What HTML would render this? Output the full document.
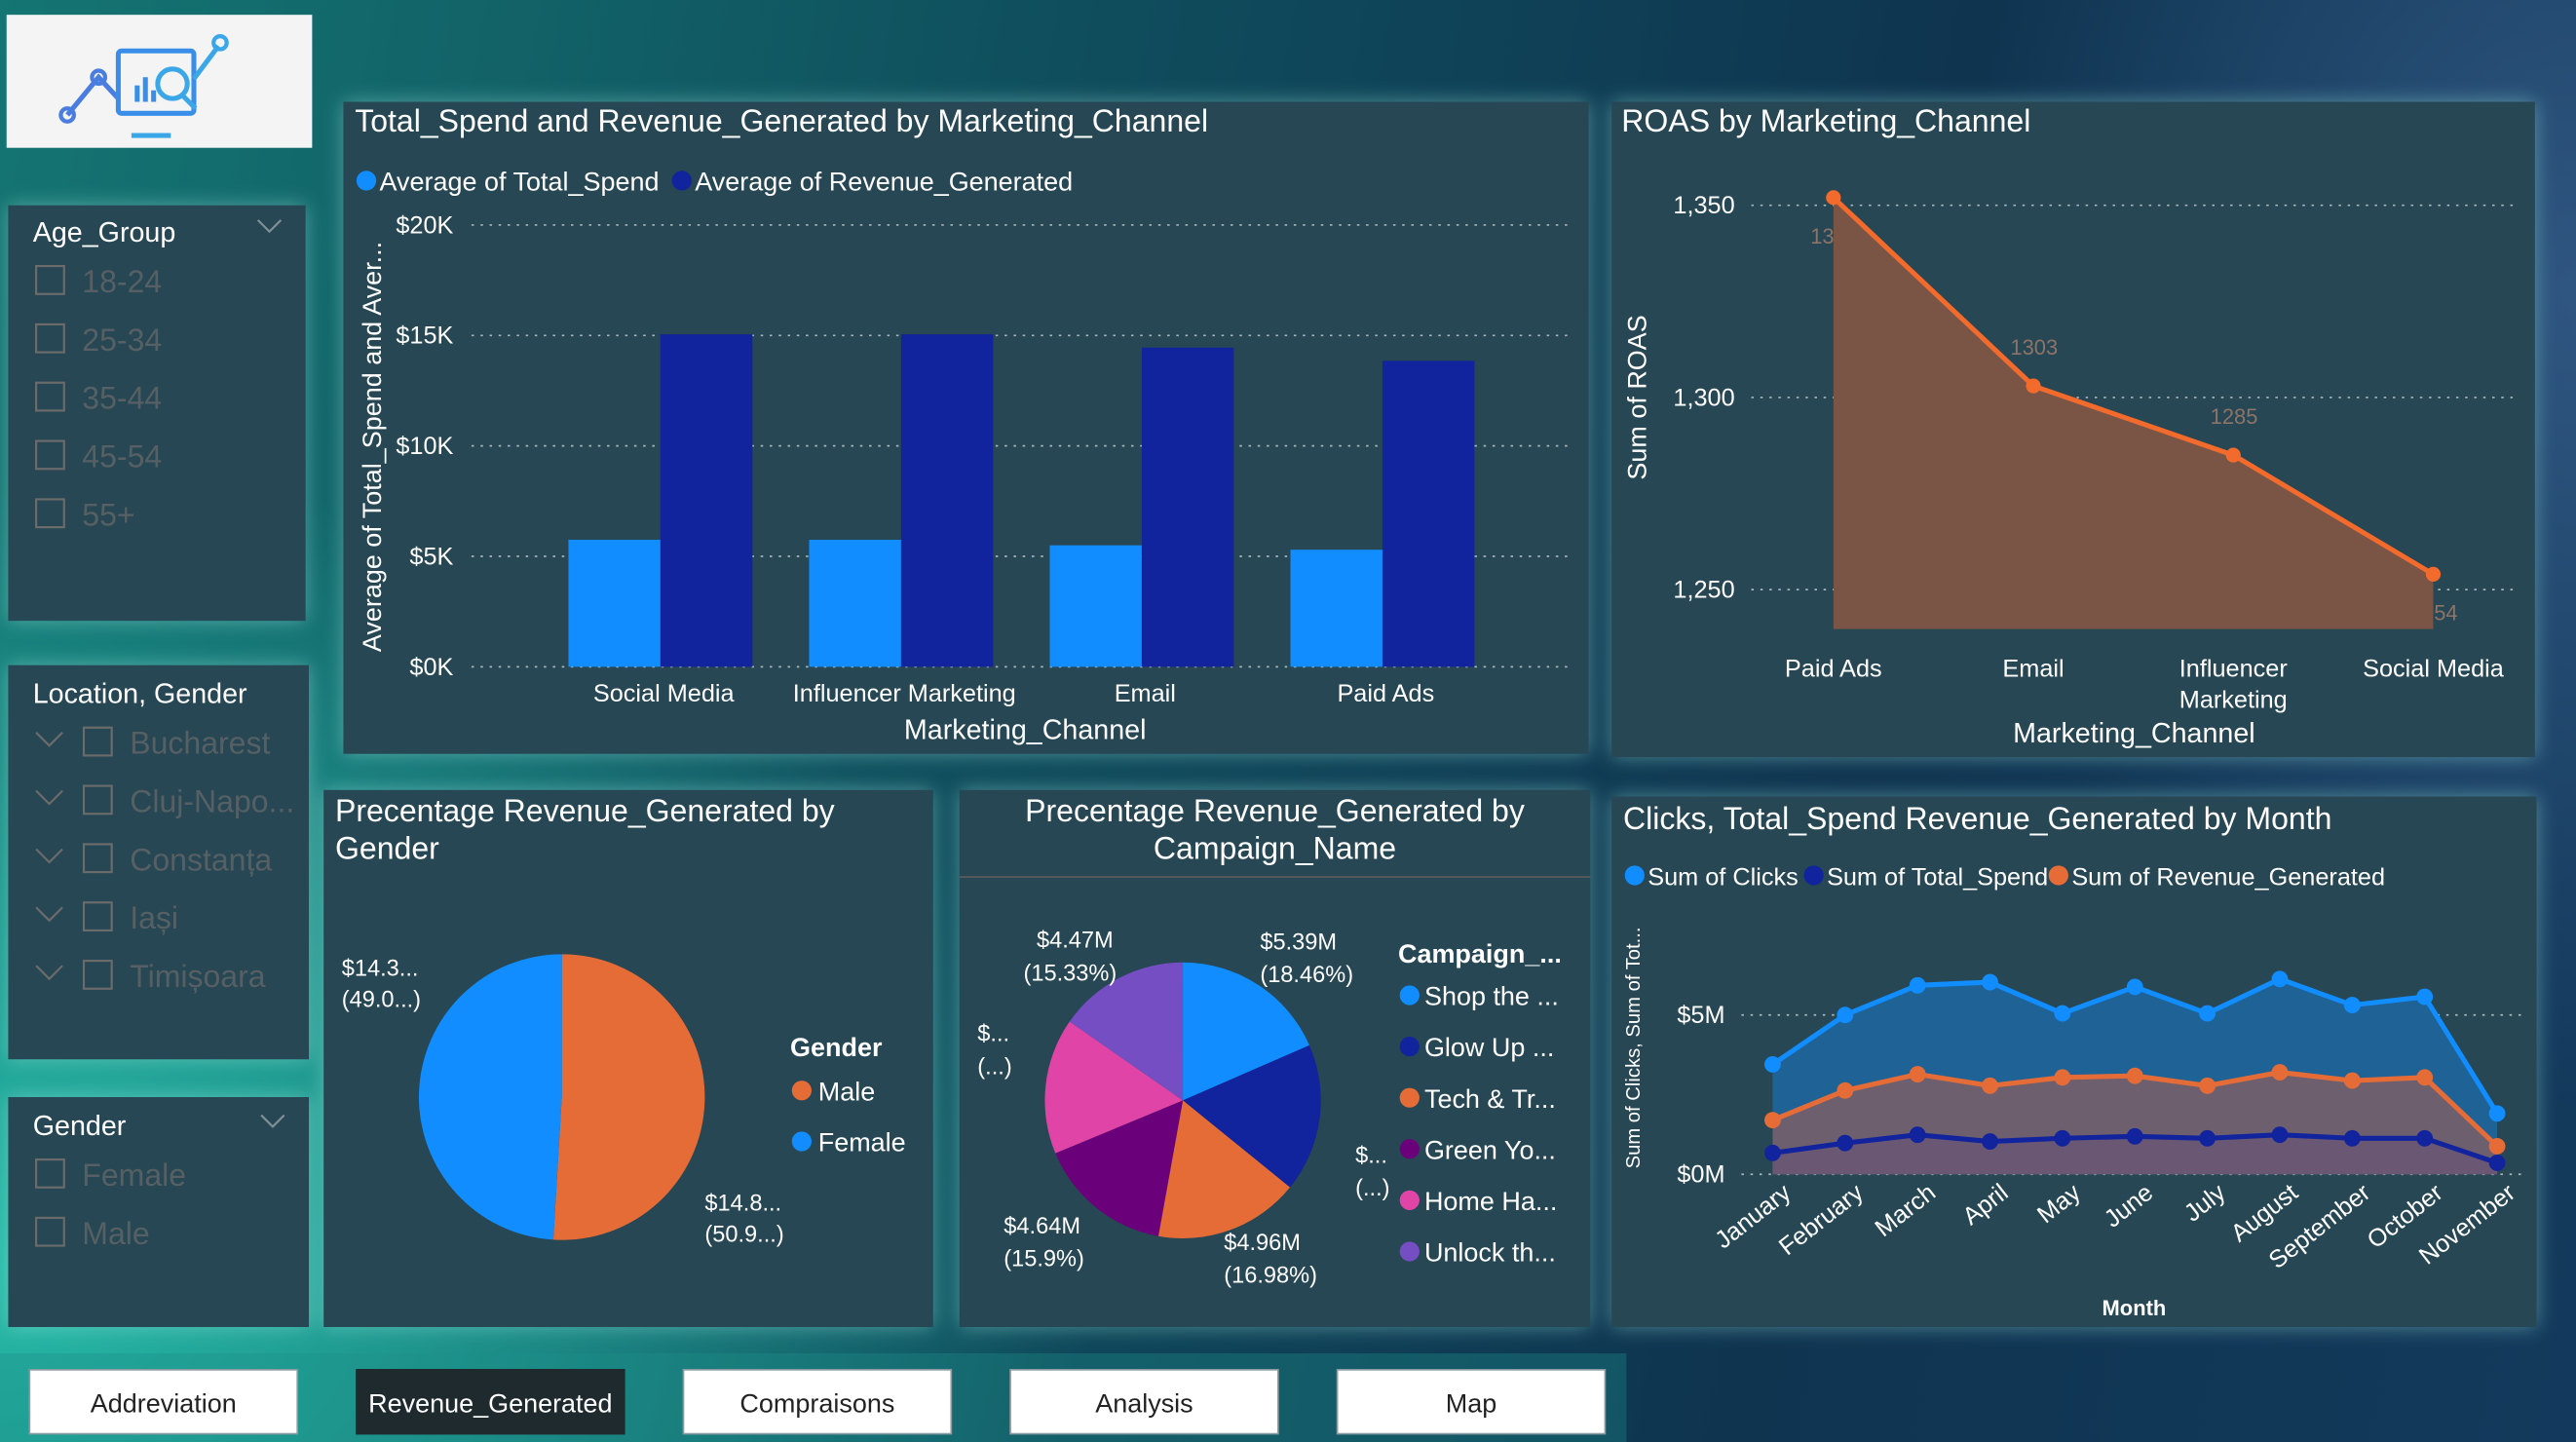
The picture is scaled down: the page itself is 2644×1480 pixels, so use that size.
<!DOCTYPE html>
<html><head><meta charset="utf-8">
<style>
html,body{margin:0;padding:0;width:2644px;height:1480px;overflow:hidden;background:#113a4a}
#bg{position:absolute;left:0;top:0;width:2644px;height:1480px;
background:
radial-gradient(ellipse 900px 1200px at 2644px 300px, rgba(70,110,160,0.55), rgba(70,110,160,0) 70%),
radial-gradient(ellipse 1500px 1100px at 0px 1300px, rgba(40,190,170,0.95), rgba(40,190,170,0) 75%),
linear-gradient(100deg,#147572 0%,#0f4c5c 40%,#0f3450 70%,#133a5c 100%);}
svg{position:absolute;left:0;top:0}
text{font-family:"Liberation Sans Narrow","Liberation Sans",sans-serif}
</style></head><body>
<div id="bg"></div>
<svg id="s" width="2644" height="1480" viewBox="0 0 1568 878" preserveAspectRatio="none">
<defs>
<filter id="glow" x="-10%" y="-10%" width="120%" height="120%"><feGaussianBlur stdDeviation="6"/></filter>
</defs>
<g id="glows" opacity="0.45" filter="url(#glow)" fill="#9fe8e0">
<rect x="5" y="125" width="181" height="253"/><rect x="5" y="405" width="183" height="240"/><rect x="5" y="668" width="183" height="140"/>
<rect x="209" y="62" width="758" height="397"/><rect x="981" y="62" width="562" height="399"/>
<rect x="197" y="481" width="371" height="327"/><rect x="584" y="481" width="384" height="327"/><rect x="981" y="485" width="563" height="323"/>
</g>
<g>
<rect x="4" y="9" width="186" height="81" fill="#f4f4f4"/>
<polyline points="41,70 60,47 72,60" fill="none" stroke="#4a7de0" stroke-width="3"/>
<circle cx="41" cy="70" r="4" fill="none" stroke="#4a7de0" stroke-width="2.5"/>
<circle cx="60" cy="47" r="4" fill="none" stroke="#4a7de0" stroke-width="2.5"/>
<rect x="72" y="31" width="46" height="38" fill="none" stroke="#3b8ee8" stroke-width="3" rx="2"/>
<rect x="80" y="81" width="24" height="3" fill="#3ba7e8"/>
<rect x="82" y="52" width="3" height="10" fill="#3b8ee8"/><rect x="87" y="47" width="3" height="15" fill="#3b8ee8"/><rect x="92" y="55" width="3" height="7" fill="#3b8ee8"/>
<circle cx="105" cy="51" r="9" fill="none" stroke="#3ba7e8" stroke-width="3"/>
<line x1="111" y1="58" x2="119" y2="66" stroke="#3ba7e8" stroke-width="3"/>
<polyline points="118,48 133,28" fill="none" stroke="#3ba7e8" stroke-width="3"/>
<circle cx="134" cy="26" r="4" fill="none" stroke="#3ba7e8" stroke-width="2.5"/>
</g>
<g id="panels"></g>
<g id="content"></g>
</svg>
<script>
const S=document.getElementById('s');
const NS='http://www.w3.org/2000/svg';
function mk(tag,attrs,parent,txt){const e=document.createElementNS(NS,tag);for(const k in attrs)e.setAttribute(k,attrs[k]);if(txt!==undefined)e.textContent=txt;(parent||S).appendChild(e);return e;}
const P=document.getElementById('panels'), C=document.getElementById('content');
const PANEL='#264753';
function panel(x,y,w,h,name){const r=mk('rect',{x:x,y:y,width:w,height:h,fill:PANEL},P);

return r;}
function txt(x,y,s,size,fill,extra,name,inter){const a={x:x,y:y,'font-size':size,fill:fill};Object.assign(a,extra||{});const t=mk('text',a,C,s);

return t;}

// ===== slicers =====
panel(5,125,181,253,'age-group-slicer');
panel(5,405,183,240,'location-gender-slicer');
panel(5,668,183,140,'gender-slicer');
txt(20,147,'Age_Group',17,'#fff',{},'age-group-title');
mk('polyline',{points:'157,134 164,141 171,134',fill:'none',stroke:'#7f8f95','stroke-width':1.3},C);
const ages=['18-24','25-34','35-44','45-54','55+'];
ages.forEach((a,i)=>{const y=162+i*35.5;
 const b=mk('rect',{x:22,y:y,width:17,height:17,fill:'none',stroke:'#6b6b6b','stroke-width':1.3},C);
 
 
 txt(50,y+16,a,19,'#566064',{},'age-option-'+a,true);});
txt(20,428,'Location, Gender',17,'#fff',{},'location-gender-title');
const locs=['Bucharest','Cluj-Napo...','Constanța','Iași','Timișoara'];
locs.forEach((a,i)=>{const y=443+i*35.5;
 mk('polyline',{points:`22,${y+3} 30,${y+11} 38,${y+3}`,fill:'none',stroke:'#6b6b6b','stroke-width':1.3},C);
 const b=mk('rect',{x:51,y:y,width:17,height:17,fill:'none',stroke:'#6b6b6b','stroke-width':1.3},C);
 
 
 txt(79,y+16,a,19,'#566064',{},'location-option',true);});
txt(20,691,'Gender',17,'#fff',{},'gender-slicer-title');
mk('polyline',{points:'159,679 166,686 173,679',fill:'none',stroke:'#7f8f95','stroke-width':1.3},C);
['Female','Male'].forEach((a,i)=>{const y=706+i*35.5;
 const b=mk('rect',{x:22,y:y,width:17,height:17,fill:'none',stroke:'#6b6b6b','stroke-width':1.3},C);
 
 
 txt(50,y+16,a,19,'#566064',{},'gender-option-'+a.toLowerCase(),true);});

// ===== bar chart =====
const barCats=['Social Media','Influencer Marketing','Email','Paid Ads'];
const barSpend=[5.75,5.75,5.5,5.3];
const barRevenue=[15.05,15.05,14.45,13.85];
const barTicks=[0,5,10,15,20];
panel(209,62,758,397,'spend-revenue-bar-chart');
txt(216,80,'Total_Spend and Revenue_Generated by Marketing_Channel',19,'#fff',{},'bar-chart-title');
mk('circle',{cx:223,cy:110,r:6,fill:'#118dff'},C);txt(231,116,'Average of Total_Spend',16,'#fff',{},'legend-entry-spend');
mk('circle',{cx:415,cy:110,r:6,fill:'#12239e'},C);txt(423,116,'Average of Revenue_Generated',16,'#fff',{},'legend-entry-revenue');
const by=v=>406-v/20*269;
barTicks.forEach(t=>{mk('line',{x1:287,x2:958,y1:by(t),y2:by(t),stroke:'#a9b5ba','stroke-width':1,'stroke-dasharray':'1.5 4'},C);
 txt(276,by(t)+5,'$'+t+'K',15,'#fff',{'text-anchor':'end'},'y-tick-label');});
const bx=i=>404+i*146.5;
barCats.forEach((c,i)=>{
 const r1=mk('rect',{x:bx(i)-58,y:by(barSpend[i]),width:56,height:406-by(barSpend[i]),fill:'#118dff'},C);
 
 
 const r2=mk('rect',{x:bx(i)-2,y:by(barRevenue[i]),width:56,height:406-by(barRevenue[i]),fill:'#12239e'},C);
 
 
 txt(bx(i),427,c,15,'#fff',{'text-anchor':'middle'},'x-tick-label');});
txt(624,450,'Marketing_Channel',17,'#fff',{'text-anchor':'middle'},'x-axis-title');
txt(0,0,'Average of Total_Spend and Aver...',16,'#fff',{'text-anchor':'middle',transform:'translate(232,272) rotate(-90)','font-family':'Liberation Sans'},'y-axis-title');

// ===== ROAS =====
const roasCats=['Paid Ads','Email','Influencer\nMarketing','Social Media'];
const roasVals=[1352,1303,1285,1254];
const roasTicks=[1250,1300,1350];
panel(981,62,562,399,'roas-chart');
txt(987,80,'ROAS by Marketing_Channel',19,'#fff',{},'roas-title');
const ry=v=>359-(v-1250)/50*117;
const rx=i=>1116+i*121.7;
roasTicks.forEach(t=>{mk('line',{x1:1066,x2:1532,y1:ry(t),y2:ry(t),stroke:'#a9b5ba','stroke-width':1,'stroke-dasharray':'1.5 4'},C);
 txt(1056,ry(t)+5,t.toLocaleString('en-US'),15,'#fff',{'text-anchor':'end'},'y-tick-label');});
roasVals.forEach((v,i)=>{
 txt(rx(i)+(i==0?-14:i==3?-14:-14),ry(v)+(i==0?28:i==3?28:-19),String(v),13,'#8d7469',{'text-anchor':'start'},'roas-data-label');});
let pts=roasVals.map((v,i)=>rx(i)+','+ry(v)).join(' ');
mk('polygon',{points:`${rx(0)},383 ${pts} ${rx(3)},383`,fill:'#7a5546'},C);
mk('polyline',{points:pts,fill:'none',stroke:'#f26b2c','stroke-width':3},C);
roasVals.forEach((v,i)=>{const c=mk('circle',{cx:rx(i),cy:ry(v),r:4.5,fill:'#f26b2c'},C);
 
 
 roasCats[i].split('\n').forEach((l,k)=>txt(rx(i),412+k*19,l,15,'#fff',{'text-anchor':'middle'},'x-tick-label'));});
txt(1299,452,'Marketing_Channel',17,'#fff',{'text-anchor':'middle'},'x-axis-title');
txt(0,0,'Sum of ROAS',16,'#fff',{'text-anchor':'middle',transform:'translate(1002,242) rotate(-90)','font-family':'Liberation Sans'},'y-axis-title');

// ===== pies =====
function pie(cx,cy,r,vals,cols,start,name){let a=start;const tot=vals.reduce((s,v)=>s+v,0);
 vals.forEach((v,i)=>{const a2=a+v/tot*Math.PI*2;
  const x1=cx+r*Math.sin(a),y1=cy-r*Math.cos(a),x2=cx+r*Math.sin(a2),y2=cy-r*Math.cos(a2);
  const p=mk('path',{d:`M${cx},${cy} L${x1},${y1} A${r},${r} 0 ${a2-a>Math.PI?1:0} 1 ${x2},${y2} Z`,fill:cols[i]},C);
  
  
  a=a2;});}
const genderCats=['Male','Female'];
const genderShare=[50.9,49.0];
panel(197,481,371,327,'gender-pie-chart');
txt(204,500,'Precentage Revenue_Generated by',19,'#fff',{},'gender-pie-title');
txt(204,523,'Gender',19,'#fff',{},'gender-pie-title');
pie(342,668,87,genderShare,['#e66c37','#118dff'],0,'gender');
txt(208,594,'$14.3...',14,'#fff',{},'data-label');txt(208,613,'(49.0...)',14,'#fff',{},'data-label');
txt(429,737,'$14.8...',14,'#fff',{},'data-label');txt(429,756,'(50.9...)',14,'#fff',{},'data-label');
txt(481,643,'Gender',16,'#fff',{'font-weight':'bold'},'legend-title');
mk('circle',{cx:488,cy:664,r:6,fill:'#e66c37'},C);txt(498,670,'Male',16,'#fff',{},'legend-entry-male');
mk('circle',{cx:488,cy:695,r:6,fill:'#118dff'},C);txt(498,701,'Female',16,'#fff',{},'legend-entry-female');

const campCats=['Shop the ...','Glow Up ...','Tech & Tr...','Green Yo...','Home Ha...','Unlock th...'];
const campShare=[18.46,17.4,16.98,15.9,15.93,15.33];
const campCols=['#118dff','#12239e','#e66c37','#6b007b','#e044a7','#744ec2'];
panel(584,481,384,327,'campaign-pie-chart');
txt(776,500,'Precentage Revenue_Generated by',19,'#fff',{'text-anchor':'middle'},'campaign-pie-title');
txt(776,523,'Campaign_Name',19,'#fff',{'text-anchor':'middle'},'campaign-pie-title');
mk('line',{x1:584,x2:968,y1:534,y2:534,stroke:'#5a5a5a','stroke-width':1},C);
pie(720,670,84,campShare,campCols,0,'campaign');
[[767,578,'$5.39M'],[767,598,'(18.46%)'],[631,577,'$4.47M'],[623,597,'(15.33%)'],[595,634,'$...'],[595,654,'(...)'],
 [825,708,'$...'],[825,728,'(...)'],[611,751,'$4.64M'],[611,771,'(15.9%)'],[745,761,'$4.96M'],[745,781,'(16.98%)']].forEach(d=>txt(d[0],d[1],d[2],14,'#fff',{},'data-label'));
txt(851,586,'Campaign_...',16,'#fff',{'font-weight':'bold'},'legend-title');
campCats.forEach((c,i)=>{mk('circle',{cx:858,cy:606+i*31.2,r:6,fill:campCols[i]},C);
 txt(867,612+i*31.2,c,16,'#fff',{},'legend-entry-campaign',true);});

// ===== monthly line chart =====
const months=['January','February','March','April','May','June','July','August','September','October','November'];
const clicks=[3.45,5.0,5.93,6.03,5.05,5.88,5.05,6.13,5.31,5.57,1.91];
const revenue=[1.70,2.63,3.14,2.78,3.04,3.09,2.78,3.20,2.94,3.04,0.88];
const spend=[0.67,0.98,1.24,1.03,1.13,1.19,1.13,1.24,1.13,1.13,0.36];
const lineTicks=[0,5];
panel(981,485,563,323,'monthly-line-chart');
txt(988,505,'Clicks, Total_Spend Revenue_Generated by Month',19,'#fff',{},'line-chart-title');
mk('circle',{cx:995,cy:533,r:6,fill:'#118dff'},C);txt(1003,539,'Sum of Clicks',15,'#fff',{},'legend-entry-clicks');
mk('circle',{cx:1104,cy:533,r:6,fill:'#12239e'},C);txt(1112,539,'Sum of Total_Spend',15,'#fff',{},'legend-entry-spend');
mk('circle',{cx:1253,cy:533,r:6,fill:'#e66c37'},C);txt(1261,539,'Sum of Revenue_Generated',15,'#fff',{},'legend-entry-revenue');
const ly=v=>715-v/5*97, lx=i=>1079+i*44.1;
lineTicks.forEach(t=>{mk('line',{x1:1060,x2:1535,y1:ly(t),y2:ly(t),stroke:'#a9b5ba','stroke-width':1,'stroke-dasharray':'1.5 4'},C);
 txt(1050,ly(t)+5,'$'+t+'M',15,'#fff',{'text-anchor':'end'},'y-tick-label');});
[[clicks,'#1f6396','#118dff','clicks'],[revenue,'#6e5f6e','#e66c37','revenue'],[spend,'#695774','#12239e','spend']].forEach(s=>{
 const p=s[0].map((v,i)=>lx(i)+','+ly(v)).join(' ');
 mk('polygon',{points:`${lx(0)},${ly(0)} ${p} ${lx(10)},${ly(0)}`,fill:s[1]},C);});
[[clicks,'#118dff','clicks'],[revenue,'#e66c37','revenue'],[spend,'#12239e','spend']].forEach(s=>{
 const p=s[0].map((v,i)=>lx(i)+','+ly(v)).join(' ');
 mk('polyline',{points:p,fill:'none',stroke:s[1],'stroke-width':3},C);
 s[0].forEach((v,i)=>{const c=mk('circle',{cx:lx(i),cy:ly(v),r:5,fill:s[1]},C);
  
  });});
months.forEach((m,i)=>txt(lx(i)+12,728,m,15,'#fff',{'text-anchor':'end',transform:`rotate(-38 ${lx(i)+12} 728)`},'x-tick-label'));
txt(1299,801,'Month',13,'#fff',{'text-anchor':'middle','font-weight':'bold'},'x-axis-title');
txt(0,0,'Sum of Clicks, Sum of Tot...',12,'#fff',{'text-anchor':'middle',transform:'translate(998,638) rotate(-90)','font-family':'Liberation Sans'},'y-axis-title');

// ===== nav buttons =====
mk('rect',{x:0,y:824,width:990,height:54,fill:'#1c8f8a',opacity:0.35},P);
const navs=['Addreviation','Revenue_Generated','Compraisons','Analysis','Map'];
navs.forEach((n,i)=>{const x=18+i*199;const act=i==1;
 const b=mk('rect',{x:x,y:834,width:163,height:39,fill:act?'#1f2a2e':'#ffffff',stroke:act?'#1f2a2e':'#8a9aa0','stroke-width':1},C);
 
 
 txt(x+81.5,860,n,16,act?'#fff':'#222',{'text-anchor':'middle','font-family':'Liberation Sans'},'nav-button-label',true);});
</script>
</body></html>
